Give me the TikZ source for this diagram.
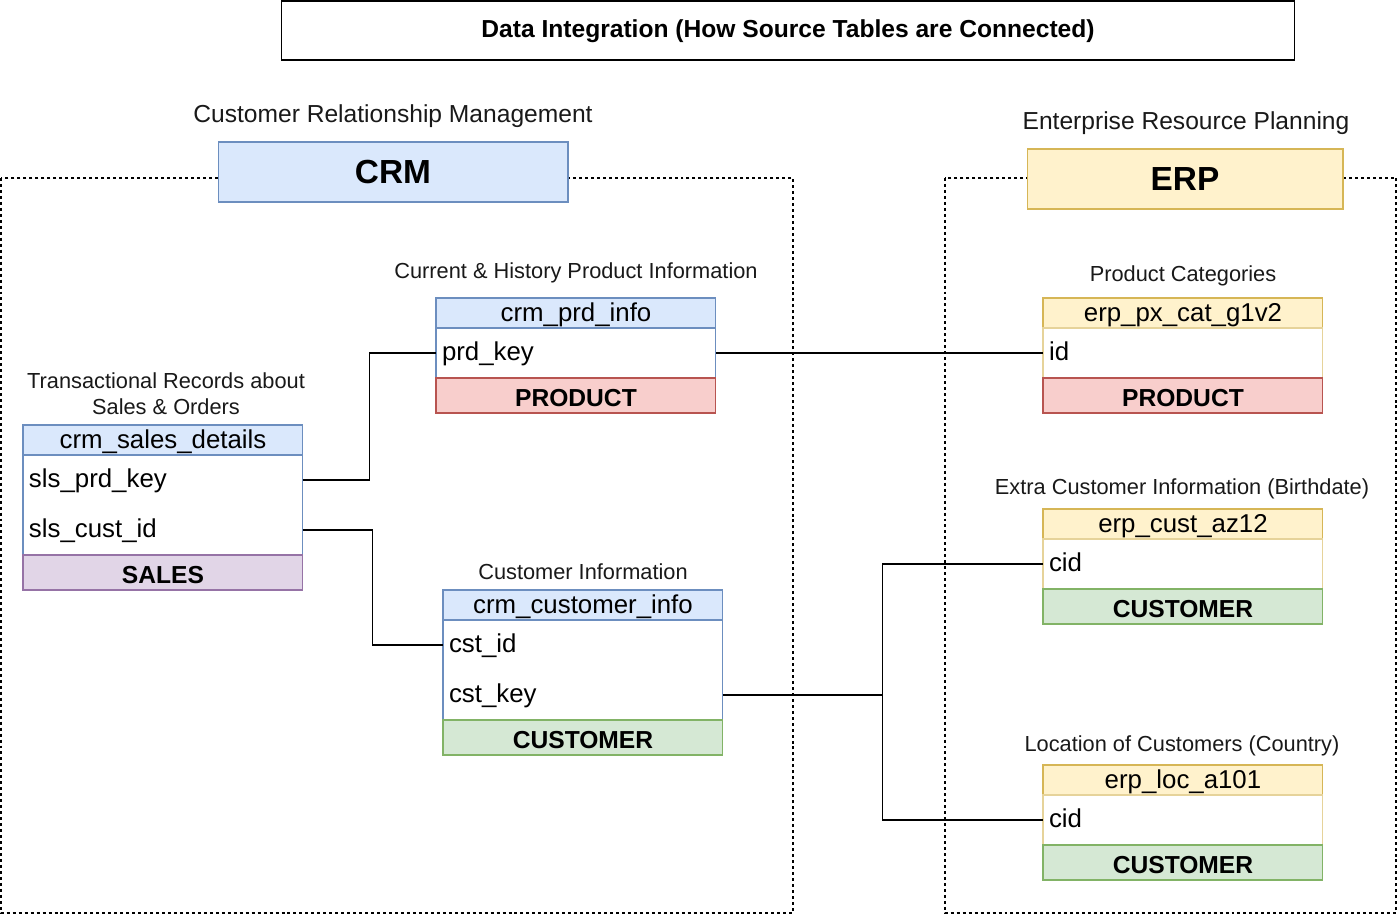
\documentclass[tikz,border=0pt]{standalone}
\usepackage{fontspec}
\setmainfont{Liberation Sans}
\usetikzlibrary{positioning}

\definecolor{crmfill}{HTML}{DAE8FC}
\definecolor{crmline}{HTML}{6C8EBF}
\definecolor{erpfill}{HTML}{FFF2CC}
\definecolor{erpline}{HTML}{D6B656}
\definecolor{prdfill}{HTML}{F8CECC}
\definecolor{prdline}{HTML}{B85450}
\definecolor{custfill}{HTML}{D5E8D4}
\definecolor{custline}{HTML}{82B366}
\definecolor{slsfill}{HTML}{E1D5E7}
\definecolor{slsline}{HTML}{9673A6}

\tikzset{
  tbl/.style={draw, minimum width=5.6cm, inner sep=0pt, outer sep=0pt, line width=0.6pt},
  thead/.style={tbl, minimum height=0.6cm, text height=11.8pt, text depth=2.4pt,
    font=\fontsize{14.7}{17}\selectfont},
  tbody/.style={tbl, fill=white},
  tfield/.style={draw=none, minimum width=5.6cm, minimum height=1cm, inner sep=0pt,
    inner xsep=0.12cm, outer sep=0pt, text width=5.36cm, align=left,
    text height=11.5pt, text depth=2.4pt, font=\fontsize{14.7}{17}\selectfont},
  tfoot/.style={tbl, minimum height=0.7cm, text height=13pt, text depth=0pt,
    font=\bfseries\fontsize{14}{17}\selectfont},
  caption/.style={font=\fontsize{12.4}{14.7}\selectfont, align=center, text=black!90},
  subtitle/.style={font=\fontsize{14}{17}\selectfont, text=black!90},
  sysbox/.style={draw, line width=0.6pt, font=\bfseries\fontsize{19}{22}\selectfont},
  zone/.style={line width=0.6pt, dash pattern=on 1.7pt off 1.7pt},
  link/.style={line width=0.6pt}
}

\begin{document}
\begin{tikzpicture}[x=0.02cm, y=-0.02cm]
    \useasboundingbox (0,0) rectangle (1398,916);

    % Title
    \node[draw, line width=0.6pt, minimum width=20.28cm, minimum height=1.18cm,
      text height=10pt, text depth=2.6pt,
      font=\bfseries\fontsize{14}{17}\selectfont] (title) at (788,30.5)
      {Data Integration (How Source Tables are Connected)};

    % Source systems
    \draw[zone] (1,178) rectangle (793,913);
    \draw[zone] (945,178) rectangle (1396,913);
    \node[subtitle] (crmSub) at (393,116) {Customer Relationship Management};
    \node[subtitle] (erpSub) at (1186,123) {Enterprise Resource Planning};
    \node[sysbox, fill=crmfill, draw=crmline, minimum width=7cm, minimum height=1.2cm] (crm) at (393,172) {CRM};
    \node[sysbox, fill=erpfill, draw=erpline, minimum width=6.32cm, minimum height=1.2cm] (erp) at (1185,179) {ERP};

    % crm_sales_details
    \node[caption] (salesCap) at (166,394) {Transactional Records about\\Sales \& Orders};
    \node[thead, fill=crmfill, draw=crmline, anchor=north west] (salesHead) at (23,425) {crm\_sales\_details};
    \node[tbody, draw=crmline, minimum height=2cm, below=0pt of salesHead] (salesBody) {};
    \node[tfield, anchor=north west] (slsPrdKey) at (salesBody.north west) {sls\_prd\_key};
    \node[tfield, below=0pt of slsPrdKey] (slsCustId) {sls\_cust\_id};
    \node[tfoot, fill=slsfill, draw=slsline, below=0pt of salesBody] (salesFoot) {SALES};

    % crm_prd_info
    \node[caption] (prdCap) at (576,273) {Current \& History Product Information};
    \node[thead, fill=crmfill, draw=crmline, anchor=north west] (prdHead) at (436,298) {crm\_prd\_info};
    \node[tbody, draw=crmline, minimum height=1cm, below=0pt of prdHead] (prdBody) {};
    \node[tfield, anchor=north west] (prdKey) at (prdBody.north west) {prd\_key};
    \node[tfoot, fill=prdfill, draw=prdline, below=0pt of prdBody] (prdFoot) {PRODUCT};

    % crm_customer_info
    \node[caption] (custCap) at (583,572) {Customer Information};
    \node[thead, fill=crmfill, draw=crmline, anchor=north west] (custHead) at (443,590) {crm\_customer\_info};
    \node[tbody, draw=crmline, minimum height=2cm, below=0pt of custHead] (custBody) {};
    \node[tfield, anchor=north west] (cstId) at (custBody.north west) {cst\_id};
    \node[tfield, below=0pt of cstId] (cstKey) {cst\_key};
    \node[tfoot, fill=custfill, draw=custline, below=0pt of custBody] (custFoot) {CUSTOMER};

    % erp_px_cat_g1v2
    \node[caption] (pxCap) at (1183,276) {Product Categories};
    \node[thead, fill=erpfill, draw=erpline, anchor=north west] (pxHead) at (1043,298) {erp\_px\_cat\_g1v2};
    \node[tbody, draw=erpline!60, minimum height=1cm, below=0pt of pxHead] (pxBody) {};
    \node[tfield, anchor=north west] (pxId) at (pxBody.north west) {id};
    \node[tfoot, fill=prdfill, draw=prdline, below=0pt of pxBody] (pxFoot) {PRODUCT};

    % erp_cust_az12
    \node[caption] (azCap) at (1182,489) {Extra Customer Information (Birthdate)};
    \node[thead, fill=erpfill, draw=erpline, anchor=north west] (azHead) at (1043,509) {erp\_cust\_az12};
    \node[tbody, draw=erpline!60, minimum height=1cm, below=0pt of azHead] (azBody) {};
    \node[tfield, anchor=north west] (azCid) at (azBody.north west) {cid};
    \node[tfoot, fill=custfill, draw=custline, below=0pt of azBody] (azFoot) {CUSTOMER};

    % erp_loc_a101
    \node[caption] (locCap) at (1182,746) {Location of Customers (Country)};
    \node[thead, fill=erpfill, draw=erpline, anchor=north west] (locHead) at (1043,765) {erp\_loc\_a101};
    \node[tbody, draw=erpline!60, minimum height=1cm, below=0pt of locHead] (locBody) {};
    \node[tfield, anchor=north west] (locCid) at (locBody.north west) {cid};
    \node[tfoot, fill=custfill, draw=custline, below=0pt of locBody] (locFoot) {CUSTOMER};

    % Connections
    \draw[link] (slsPrdKey.east) -- ++(67,0) |- (prdKey.west);
    \draw[link] (slsCustId.east) -- ++(70,0) |- (cstId.west);
    \draw[link] (prdKey.east) -- (pxId.west);
    \draw[link] (cstKey.east) -- ++(160,0) coordinate (custHub) |- (azCid.west);
    \draw[link] (custHub) |- (locCid.west);
\end{tikzpicture}
\end{document}
